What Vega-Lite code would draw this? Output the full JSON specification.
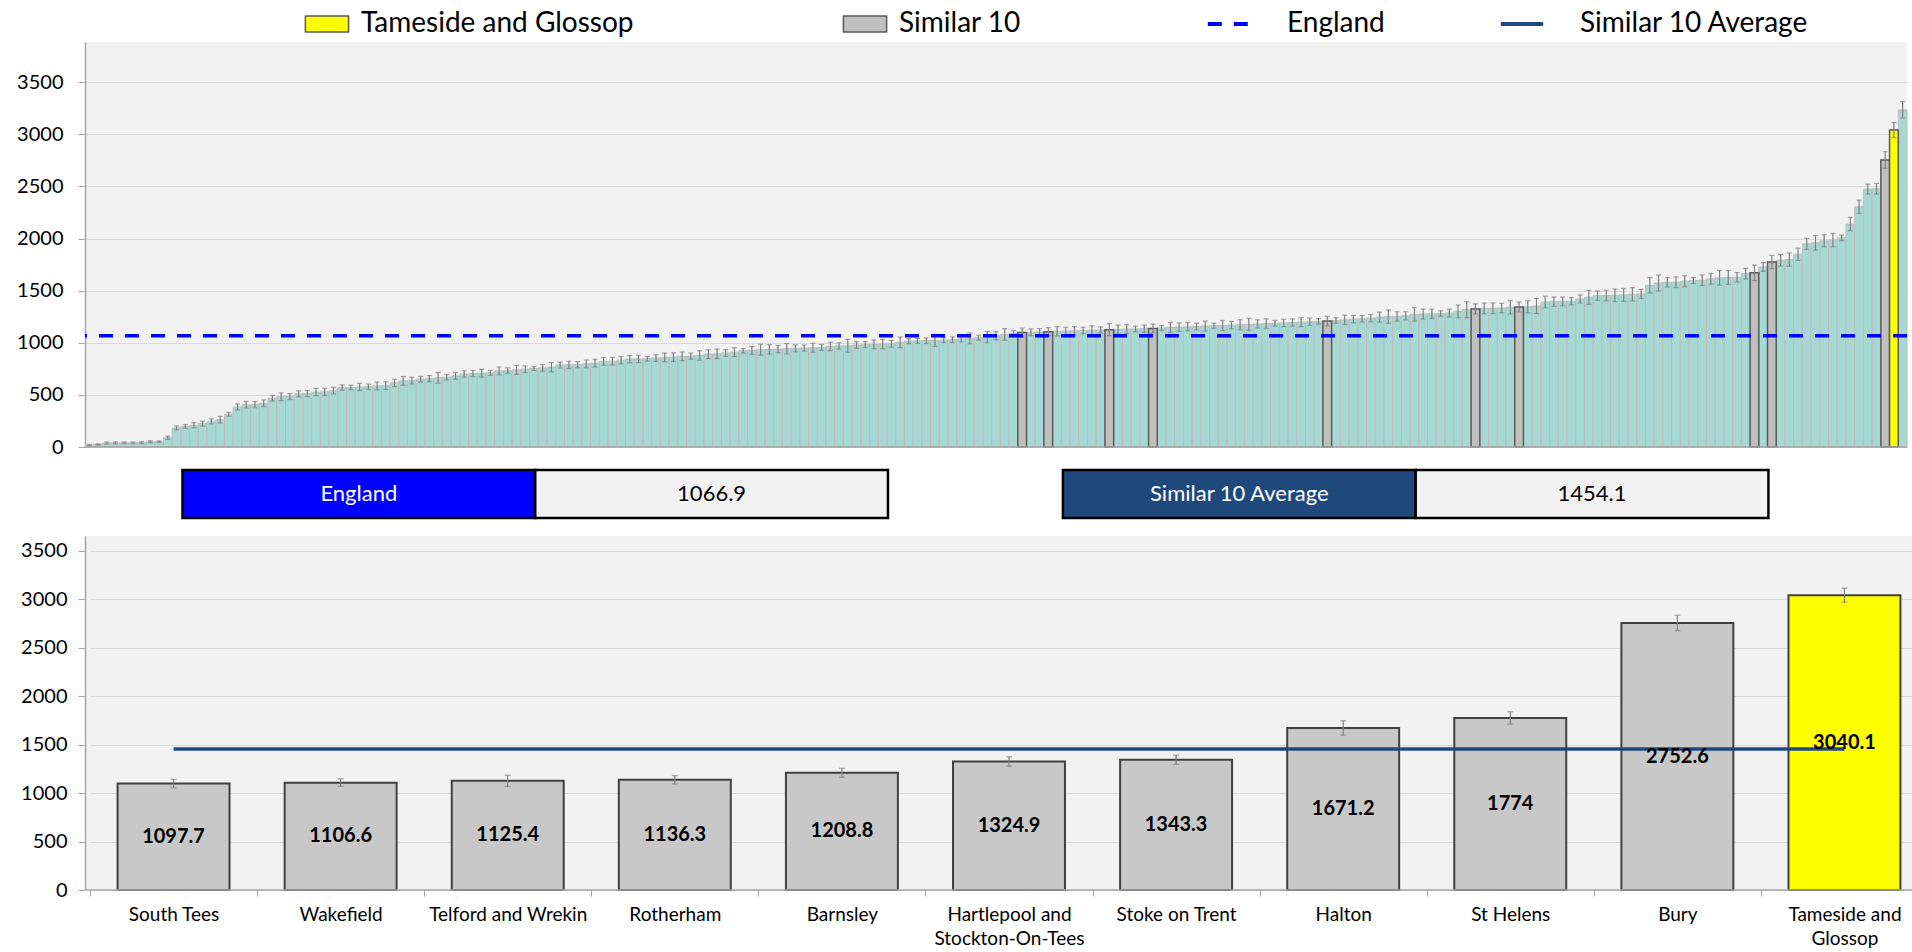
{
"$schema": "https://vega.github.io/schema/vega-lite/v6.json",
"padding": {"left": 0, "top": 10, "right": 0, "bottom": 0},
"background": "white",
"spacing": 11,
"config": {
  "font": "Lato",
  "view": {"stroke": null},
  "axis": {"labelFont": "Lato", "labelColor": "#000000", "domainColor": "#A6A6A6", "tickColor": "#A6A6A6", "gridColor": "#D9D9D9", "title": null},
  "legend": {"labelFont": "Lato", "labelColor": "#000000"},
  "text": {"font": "Lato"}
},
"resolve": {"scale": {"x": "independent", "y": "independent", "fill": "independent", "stroke": "independent", "color": "independent", "strokeDash": "independent"}},
"datasets": {
"boxes": [
 {"row": "summary", "cell": "England", "role": "label", "text": "England"},
 {"row": "summary", "cell": "England", "role": "value", "text": "1066.9"},
 {"row": "summary", "cell": "Similar 10 Average", "role": "label", "text": "Similar 10 Average"},
 {"row": "summary", "cell": "Similar 10 Average", "role": "value", "text": "1454.1"}
],
"ccg": [
{"r":0,"v":18,"lo":12,"hi":24,"g":"Other"},
{"r":1,"v":24,"lo":18,"hi":30,"g":"Other"},
{"r":2,"v":38,"lo":28,"hi":48,"g":"Other"},
{"r":3,"v":39,"lo":29,"hi":49,"g":"Other"},
{"r":4,"v":40,"lo":32,"hi":48,"g":"Other"},
{"r":5,"v":40,"lo":32,"hi":48,"g":"Other"},
{"r":6,"v":42,"lo":32,"hi":52,"g":"Other"},
{"r":7,"v":50,"lo":40,"hi":60,"g":"Other"},
{"r":8,"v":51,"lo":43,"hi":59,"g":"Other"},
{"r":9,"v":89,"lo":73,"hi":105,"g":"Other"},
{"r":10,"v":183,"lo":164,"hi":202,"g":"Other"},
{"r":11,"v":198,"lo":180,"hi":216,"g":"Other"},
{"r":12,"v":208,"lo":184,"hi":232,"g":"Other"},
{"r":13,"v":224,"lo":200,"hi":248,"g":"Other"},
{"r":14,"v":246,"lo":222,"hi":270,"g":"Other"},
{"r":15,"v":262,"lo":230,"hi":294,"g":"Other"},
{"r":16,"v":314,"lo":295,"hi":333,"g":"Other"},
{"r":17,"v":384,"lo":355,"hi":413,"g":"Other"},
{"r":18,"v":405,"lo":373,"hi":437,"g":"Other"},
{"r":19,"v":407,"lo":377,"hi":437,"g":"Other"},
{"r":20,"v":420,"lo":388,"hi":452,"g":"Other"},
{"r":21,"v":468,"lo":441,"hi":495,"g":"Other"},
{"r":22,"v":482,"lo":445,"hi":519,"g":"Other"},
{"r":23,"v":484,"lo":455,"hi":513,"g":"Other"},
{"r":24,"v":510,"lo":481,"hi":539,"g":"Other"},
{"r":25,"v":513,"lo":484,"hi":542,"g":"Other"},
{"r":26,"v":527,"lo":492,"hi":562,"g":"Other"},
{"r":27,"v":529,"lo":494,"hi":564,"g":"Other"},
{"r":28,"v":541,"lo":509,"hi":573,"g":"Other"},
{"r":29,"v":570,"lo":544,"hi":596,"g":"Other"},
{"r":30,"v":572,"lo":551,"hi":593,"g":"Other"},
{"r":31,"v":576,"lo":541,"hi":611,"g":"Other"},
{"r":32,"v":578,"lo":552,"hi":604,"g":"Other"},
{"r":33,"v":586,"lo":549,"hi":623,"g":"Other"},
{"r":34,"v":588,"lo":551,"hi":625,"g":"Other"},
{"r":35,"v":615,"lo":580,"hi":650,"g":"Other"},
{"r":36,"v":634,"lo":592,"hi":676,"g":"Other"},
{"r":37,"v":637,"lo":605,"hi":669,"g":"Other"},
{"r":38,"v":650,"lo":623,"hi":677,"g":"Other"},
{"r":39,"v":656,"lo":627,"hi":685,"g":"Other"},
{"r":40,"v":663,"lo":612,"hi":714,"g":"Other"},
{"r":41,"v":669,"lo":643,"hi":695,"g":"Other"},
{"r":42,"v":682,"lo":650,"hi":714,"g":"Other"},
{"r":43,"v":701,"lo":671,"hi":731,"g":"Other"},
{"r":44,"v":705,"lo":676,"hi":734,"g":"Other"},
{"r":45,"v":708,"lo":671,"hi":745,"g":"Other"},
{"r":46,"v":711,"lo":687,"hi":735,"g":"Other"},
{"r":47,"v":730,"lo":692,"hi":768,"g":"Other"},
{"r":48,"v":733,"lo":707,"hi":759,"g":"Other"},
{"r":49,"v":740,"lo":697,"hi":783,"g":"Other"},
{"r":50,"v":746,"lo":714,"hi":778,"g":"Other"},
{"r":51,"v":753,"lo":734,"hi":772,"g":"Other"},
{"r":52,"v":759,"lo":727,"hi":791,"g":"Other"},
{"r":53,"v":766,"lo":721,"hi":811,"g":"Other"},
{"r":54,"v":786,"lo":757,"hi":815,"g":"Other"},
{"r":55,"v":788,"lo":753,"hi":823,"g":"Other"},
{"r":56,"v":790,"lo":761,"hi":819,"g":"Other"},
{"r":57,"v":797,"lo":759,"hi":835,"g":"Other"},
{"r":58,"v":804,"lo":767,"hi":841,"g":"Other"},
{"r":59,"v":821,"lo":784,"hi":858,"g":"Other"},
{"r":60,"v":823,"lo":786,"hi":860,"g":"Other"},
{"r":61,"v":833,"lo":798,"hi":868,"g":"Other"},
{"r":62,"v":843,"lo":808,"hi":878,"g":"Other"},
{"r":63,"v":845,"lo":810,"hi":880,"g":"Other"},
{"r":64,"v":846,"lo":824,"hi":868,"g":"Other"},
{"r":65,"v":853,"lo":821,"hi":885,"g":"Other"},
{"r":66,"v":860,"lo":818,"hi":902,"g":"Other"},
{"r":67,"v":862,"lo":820,"hi":904,"g":"Other"},
{"r":68,"v":870,"lo":828,"hi":912,"g":"Other"},
{"r":69,"v":872,"lo":842,"hi":902,"g":"Other"},
{"r":70,"v":878,"lo":832,"hi":924,"g":"Other"},
{"r":71,"v":891,"lo":849,"hi":933,"g":"Other"},
{"r":72,"v":894,"lo":848,"hi":940,"g":"Other"},
{"r":73,"v":901,"lo":869,"hi":933,"g":"Other"},
{"r":74,"v":910,"lo":868,"hi":952,"g":"Other"},
{"r":75,"v":923,"lo":902,"hi":944,"g":"Other"},
{"r":76,"v":926,"lo":889,"hi":963,"g":"Other"},
{"r":77,"v":933,"lo":880,"hi":986,"g":"Other"},
{"r":78,"v":937,"lo":892,"hi":982,"g":"Other"},
{"r":79,"v":939,"lo":904,"hi":974,"g":"Other"},
{"r":80,"v":942,"lo":892,"hi":992,"g":"Other"},
{"r":81,"v":946,"lo":912,"hi":980,"g":"Other"},
{"r":82,"v":949,"lo":920,"hi":978,"g":"Other"},
{"r":83,"v":952,"lo":909,"hi":995,"g":"Other"},
{"r":84,"v":955,"lo":926,"hi":984,"g":"Other"},
{"r":85,"v":965,"lo":925,"hi":1005,"g":"Other"},
{"r":86,"v":969,"lo":939,"hi":999,"g":"Other"},
{"r":87,"v":971,"lo":909,"hi":1033,"g":"Other"},
{"r":88,"v":978,"lo":946,"hi":1010,"g":"Other"},
{"r":89,"v":982,"lo":953,"hi":1011,"g":"Other"},
{"r":90,"v":985,"lo":943,"hi":1027,"g":"Other"},
{"r":91,"v":987,"lo":942,"hi":1032,"g":"Other"},
{"r":92,"v":990,"lo":958,"hi":1022,"g":"Other"},
{"r":93,"v":1003,"lo":952,"hi":1054,"g":"Other"},
{"r":94,"v":1016,"lo":992,"hi":1040,"g":"Other"},
{"r":95,"v":1018,"lo":994,"hi":1042,"g":"Other"},
{"r":96,"v":1020,"lo":993,"hi":1047,"g":"Other"},
{"r":97,"v":1022,"lo":964,"hi":1080,"g":"Other"},
{"r":98,"v":1025,"lo":1001,"hi":1049,"g":"Other"},
{"r":99,"v":1029,"lo":1002,"hi":1056,"g":"Other"},
{"r":100,"v":1035,"lo":1008,"hi":1062,"g":"Other"},
{"r":101,"v":1041,"lo":990,"hi":1092,"g":"Other"},
{"r":102,"v":1048,"lo":1024,"hi":1072,"g":"Other"},
{"r":103,"v":1054,"lo":1000,"hi":1108,"g":"Other"},
{"r":104,"v":1067,"lo":1027,"hi":1107,"g":"Other"},
{"r":105,"v":1080,"lo":1024,"hi":1136,"g":"Other"},
{"r":106,"v":1090,"lo":1063,"hi":1117,"g":"Other"},
{"r":107,"v":1097.7,"lo":1055,"hi":1141,"g":"Similar 10","name":"South Tees"},
{"r":108,"v":1100,"lo":1068,"hi":1132,"g":"Other"},
{"r":109,"v":1104,"lo":1072,"hi":1136,"g":"Other"},
{"r":110,"v":1106.6,"lo":1069,"hi":1145,"g":"Similar 10","name":"Wakefield"},
{"r":111,"v":1110,"lo":1064,"hi":1156,"g":"Other"},
{"r":112,"v":1112,"lo":1075,"hi":1149,"g":"Other"},
{"r":113,"v":1115,"lo":1075,"hi":1155,"g":"Other"},
{"r":114,"v":1117,"lo":1085,"hi":1149,"g":"Other"},
{"r":115,"v":1120,"lo":1077,"hi":1163,"g":"Other"},
{"r":116,"v":1123,"lo":1094,"hi":1152,"g":"Other"},
{"r":117,"v":1125.4,"lo":1068,"hi":1183,"g":"Similar 10","name":"Telford and Wrekin"},
{"r":118,"v":1128,"lo":1085,"hi":1171,"g":"Other"},
{"r":119,"v":1131,"lo":1088,"hi":1174,"g":"Other"},
{"r":120,"v":1133,"lo":1106,"hi":1160,"g":"Other"},
{"r":121,"v":1135,"lo":1100,"hi":1170,"g":"Other"},
{"r":122,"v":1136.3,"lo":1093,"hi":1179,"g":"Similar 10","name":"Rotherham"},
{"r":123,"v":1142,"lo":1118,"hi":1166,"g":"Other"},
{"r":124,"v":1146,"lo":1098,"hi":1194,"g":"Other"},
{"r":125,"v":1150,"lo":1110,"hi":1190,"g":"Other"},
{"r":126,"v":1153,"lo":1113,"hi":1193,"g":"Other"},
{"r":127,"v":1156,"lo":1124,"hi":1188,"g":"Other"},
{"r":128,"v":1160,"lo":1112,"hi":1208,"g":"Other"},
{"r":129,"v":1163,"lo":1139,"hi":1187,"g":"Other"},
{"r":130,"v":1166,"lo":1118,"hi":1214,"g":"Other"},
{"r":131,"v":1170,"lo":1135,"hi":1205,"g":"Other"},
{"r":132,"v":1173,"lo":1125,"hi":1221,"g":"Other"},
{"r":133,"v":1176,"lo":1118,"hi":1234,"g":"Other"},
{"r":134,"v":1180,"lo":1140,"hi":1220,"g":"Other"},
{"r":135,"v":1184,"lo":1139,"hi":1229,"g":"Other"},
{"r":136,"v":1187,"lo":1160,"hi":1214,"g":"Other"},
{"r":137,"v":1190,"lo":1155,"hi":1225,"g":"Other"},
{"r":138,"v":1194,"lo":1159,"hi":1229,"g":"Other"},
{"r":139,"v":1198,"lo":1155,"hi":1241,"g":"Other"},
{"r":140,"v":1202,"lo":1167,"hi":1237,"g":"Other"},
{"r":141,"v":1205,"lo":1178,"hi":1232,"g":"Other"},
{"r":142,"v":1208.8,"lo":1163,"hi":1255,"g":"Similar 10","name":"Barnsley"},
{"r":143,"v":1214,"lo":1187,"hi":1241,"g":"Other"},
{"r":144,"v":1220,"lo":1175,"hi":1265,"g":"Other"},
{"r":145,"v":1226,"lo":1191,"hi":1261,"g":"Other"},
{"r":146,"v":1230,"lo":1198,"hi":1262,"g":"Other"},
{"r":147,"v":1237,"lo":1202,"hi":1272,"g":"Other"},
{"r":148,"v":1246,"lo":1198,"hi":1294,"g":"Other"},
{"r":149,"v":1250,"lo":1186,"hi":1314,"g":"Other"},
{"r":150,"v":1253,"lo":1208,"hi":1298,"g":"Other"},
{"r":151,"v":1258,"lo":1218,"hi":1298,"g":"Other"},
{"r":152,"v":1272,"lo":1208,"hi":1336,"g":"Other"},
{"r":153,"v":1275,"lo":1227,"hi":1323,"g":"Other"},
{"r":154,"v":1278,"lo":1233,"hi":1323,"g":"Other"},
{"r":155,"v":1280,"lo":1254,"hi":1306,"g":"Other"},
{"r":156,"v":1285,"lo":1247,"hi":1323,"g":"Other"},
{"r":157,"v":1301,"lo":1240,"hi":1362,"g":"Other"},
{"r":158,"v":1317,"lo":1240,"hi":1394,"g":"Other"},
{"r":159,"v":1324.9,"lo":1277,"hi":1373,"g":"Similar 10","name":"Hartlepool and Stockton-On-Tees"},
{"r":160,"v":1330,"lo":1279,"hi":1381,"g":"Other"},
{"r":161,"v":1331,"lo":1280,"hi":1382,"g":"Other"},
{"r":162,"v":1333,"lo":1288,"hi":1378,"g":"Other"},
{"r":163,"v":1340,"lo":1276,"hi":1404,"g":"Other"},
{"r":164,"v":1343.3,"lo":1295,"hi":1391,"g":"Similar 10","name":"Stoke on Trent"},
{"r":165,"v":1345,"lo":1287,"hi":1403,"g":"Other"},
{"r":166,"v":1352,"lo":1280,"hi":1424,"g":"Other"},
{"r":167,"v":1391,"lo":1335,"hi":1447,"g":"Other"},
{"r":168,"v":1394,"lo":1349,"hi":1439,"g":"Other"},
{"r":169,"v":1397,"lo":1355,"hi":1439,"g":"Other"},
{"r":170,"v":1398,"lo":1363,"hi":1433,"g":"Other"},
{"r":171,"v":1420,"lo":1382,"hi":1458,"g":"Other"},
{"r":172,"v":1436,"lo":1369,"hi":1503,"g":"Other"},
{"r":173,"v":1452,"lo":1407,"hi":1497,"g":"Other"},
{"r":174,"v":1453,"lo":1402,"hi":1504,"g":"Other"},
{"r":175,"v":1455,"lo":1394,"hi":1516,"g":"Other"},
{"r":176,"v":1459,"lo":1397,"hi":1521,"g":"Other"},
{"r":177,"v":1465,"lo":1401,"hi":1529,"g":"Other"},
{"r":178,"v":1468,"lo":1425,"hi":1511,"g":"Other"},
{"r":179,"v":1551,"lo":1477,"hi":1625,"g":"Other"},
{"r":180,"v":1573,"lo":1496,"hi":1650,"g":"Other"},
{"r":181,"v":1580,"lo":1535,"hi":1625,"g":"Other"},
{"r":182,"v":1581,"lo":1530,"hi":1632,"g":"Other"},
{"r":183,"v":1590,"lo":1537,"hi":1643,"g":"Other"},
{"r":184,"v":1597,"lo":1568,"hi":1626,"g":"Other"},
{"r":185,"v":1600,"lo":1549,"hi":1651,"g":"Other"},
{"r":186,"v":1613,"lo":1562,"hi":1664,"g":"Other"},
{"r":187,"v":1623,"lo":1553,"hi":1693,"g":"Other"},
{"r":188,"v":1626,"lo":1559,"hi":1693,"g":"Other"},
{"r":189,"v":1628,"lo":1583,"hi":1673,"g":"Other"},
{"r":190,"v":1663,"lo":1612,"hi":1714,"g":"Other"},
{"r":191,"v":1671.2,"lo":1597,"hi":1745,"g":"Similar 10","name":"Halton"},
{"r":192,"v":1727,"lo":1685,"hi":1769,"g":"Other"},
{"r":193,"v":1774,"lo":1710,"hi":1838,"g":"Similar 10","name":"St Helens"},
{"r":194,"v":1791,"lo":1735,"hi":1847,"g":"Other"},
{"r":195,"v":1798,"lo":1734,"hi":1862,"g":"Other"},
{"r":196,"v":1849,"lo":1790,"hi":1908,"g":"Other"},
{"r":197,"v":1949,"lo":1896,"hi":2002,"g":"Other"},
{"r":198,"v":1958,"lo":1889,"hi":2027,"g":"Other"},
{"r":199,"v":1977,"lo":1919,"hi":2035,"g":"Other"},
{"r":200,"v":1984,"lo":1920,"hi":2048,"g":"Other"},
{"r":201,"v":2006,"lo":1979,"hi":2033,"g":"Other"},
{"r":202,"v":2138,"lo":2074,"hi":2202,"g":"Other"},
{"r":203,"v":2304,"lo":2240,"hi":2368,"g":"Other"},
{"r":204,"v":2474,"lo":2426,"hi":2522,"g":"Other"},
{"r":205,"v":2477,"lo":2426,"hi":2528,"g":"Other"},
{"r":206,"v":2752.6,"lo":2673,"hi":2833,"g":"Similar 10","name":"Bury"},
{"r":207,"v":3040.1,"lo":2968,"hi":3112,"g":"Tameside and Glossop","name":"Tameside and Glossop"},
{"r":208,"v":3234,"lo":3156,"hi":3312,"g":"Other"}
]
},
"vconcat": [
{
  "width": 1822,
  "height": 405,
  "view": {"fill": "#F2F2F2", "stroke": null},
  "data": {"name": "ccg"},
  "layer": [
    {
      "transform": [{"filter": "datum.g === 'Other'"}],
      "mark": {"type": "bar", "strokeWidth": 1, "stroke": "#BDBDBD"},
      "encoding": {
        "x": {"field": "r", "type": "ordinal", "scale": {"paddingInner": 0, "paddingOuter": 0}, "axis": null},
        "y": {"field": "v", "type": "quantitative", "scale": {"domain": [0, 3885], "nice": false, "zero": true}, "axis": {"values": [0, 500, 1000, 1500, 2000, 2500, 3000, 3500], "format": "d", "grid": true, "gridColor": "#D9D9D9", "gridWidth": 1, "tickSize": 7, "tickColor": "#A6A6A6", "labelPadding": 15, "labelFontSize": 20, "domainColor": "#A6A6A6", "domainWidth": 1.5, "minExtent": 85, "maxExtent": 85, "title": null}},
        "fill": {"field": "g", "type": "nominal", "scale": {"domain": ["Tameside and Glossop", "Similar 10", "Other"], "range": ["#FFFF00", "#BFBFBF", "#A6D8D4"]},
          "legend": {"orient": "none", "legendX": 228, "legendY": -32, "direction": "horizontal", "values": ["Tameside and Glossop", "Similar 10"], "title": null, "symbolType": "M-2.7,-1H2.7V1H-2.7Z", "symbolSize": 256, "symbolStrokeColor": "#595959", "symbolStrokeWidth": 1.5, "labelOffset": 20, "columnPadding": 206, "labelFontSize": 28, "labelLimit": 0, "padding": 0}}
      }
    },
    {
      "transform": [{"filter": "datum.g !== 'Other'"}],
      "mark": {"type": "bar", "strokeWidth": 1.5, "stroke": "#595959"},
      "encoding": {
        "x": {"field": "r", "type": "ordinal"},
        "y": {"field": "v", "type": "quantitative"},
        "fill": {"field": "g", "type": "nominal", "legend": null}
      }
    },
    {
      "mark": {"type": "rule", "stroke": "#7F7F7F", "strokeWidth": 1.2},
      "encoding": {
        "x": {"field": "r", "type": "ordinal"},
        "y": {"field": "lo", "type": "quantitative"},
        "y2": {"field": "hi"}
      }
    },
    {
      "mark": {"type": "tick", "color": "#7F7F7F", "size": 5, "thickness": 1.2},
      "encoding": {
        "x": {"field": "r", "type": "ordinal"},
        "y": {"field": "lo", "type": "quantitative"}
      }
    },
    {
      "mark": {"type": "tick", "color": "#7F7F7F", "size": 5, "thickness": 1.2},
      "encoding": {
        "x": {"field": "r", "type": "ordinal"},
        "y": {"field": "hi", "type": "quantitative"}
      }
    },
    {
      "data": {"values": [{"base": 0}]},
      "mark": {"type": "rule", "stroke": "#A6A6A6", "strokeWidth": 1.5},
      "encoding": {"y": {"field": "base", "type": "quantitative"}}
    },
    {
      "data": {"values": [{"ref": "England", "val": 1066.9}]},
      "mark": {"type": "rule", "strokeWidth": 3.5},
      "encoding": {
        "y": {"field": "val", "type": "quantitative"},
        "stroke": {"field": "ref", "type": "nominal", "scale": {"domain": ["England", "Similar 10 Average"], "range": ["#0000FF", "#1F497D"]},
          "legend": {"orient": "none", "legendX": 1130, "legendY": -32, "direction": "horizontal", "title": null, "symbolType": "M-2.65,0H2.65", "symbolSize": 256, "symbolStrokeWidth": 4, "labelOffset": 44, "columnPadding": 107, "labelFontSize": 28, "labelLimit": 0, "padding": 0}},
        "strokeDash": {"field": "ref", "type": "nominal", "scale": {"domain": ["England", "Similar 10 Average"], "range": [[14, 12], [1, 0]]},
          "legend": {"orient": "none", "legendX": 1130, "legendY": -32, "direction": "horizontal", "title": null, "symbolType": "M-2.65,0H2.65", "symbolSize": 256, "symbolStrokeWidth": 4, "labelOffset": 44, "columnPadding": 107, "labelFontSize": 28, "labelLimit": 0, "padding": 0}}
      }
    }
  ]
},
{
  "width": 1827,
  "height": 55,
  "view": {"stroke": null},
  "data": {"name": "boxes"},
  "encoding": {
    "x": {"field": "cell", "type": "nominal", "sort": null, "scale": {"domain": ["England", "Similar 10 Average"], "paddingInner": 0.1987, "paddingOuter": 0.1369, "align": 0.4044}, "axis": null},
    "xOffset": {"field": "role", "type": "nominal", "scale": {"domain": ["label", "value"], "paddingInner": 0, "paddingOuter": 0}},
    "y": {"field": "row", "type": "nominal", "scale": {"paddingInner": 0, "paddingOuter": 0.0729, "align": 0}, "axis": null}
  },
  "layer": [
    {
      "mark": {"type": "bar", "stroke": "#000000", "strokeWidth": 2.5},
      "encoding": {
        "fill": {"condition": {"test": "datum.role === 'value'", "value": "#F2F2F2"}, "field": "cell", "type": "nominal", "scale": {"domain": ["England", "Similar 10 Average"], "range": ["#0000FF", "#1F497D"]}, "legend": null}
      }
    },
    {
      "mark": {"type": "text", "fontSize": 22, "font": "Lato"},
      "encoding": {
        "text": {"field": "text", "type": "nominal"},
        "color": {"condition": {"test": "datum.role === 'label'", "value": "#FFFFFF"}, "value": "#000000"}
      }
    }
  ]
},
{
  "width": 1827,
  "height": 354,
  "view": {"fill": "#F2F2F2", "stroke": null},
  "data": {"name": "ccg"},
  "transform": [{"filter": "datum.g !== 'Other'"}],
  "encoding": {
    "x": {"field": "name", "type": "nominal", "sort": {"field": "v", "op": "max"},
      "scale": {"range": [5, 1843], "paddingInner": 0.33, "paddingOuter": 0.165},
      "axis": {"domain": false, "ticks": true, "tickSize": 6, "tickColor": "#A6A6A6", "tickOffset": -83.55, "labelOffset": 83.55, "labelAngle": 0, "labelFontSize": 19, "labelPadding": 9, "labelLineHeight": 24, "labelLimit": 0, "labelOverlap": false, "labelBound": false, "title": null,
        "labelExpr": "indexof(datum.value, ' and ') > 0 && length(datum.value) > 19 ? [slice(datum.value, 0, indexof(datum.value, ' and ') + 4), slice(datum.value, indexof(datum.value, ' and ') + 5)] : datum.value"}}
  },
  "layer": [
    {
      "mark": {"type": "bar", "stroke": "#404040", "strokeWidth": 2},
      "encoding": {
        "y": {"field": "v", "type": "quantitative", "scale": {"domain": [0, 3650], "nice": false}, "axis": {"values": [0, 500, 1000, 1500, 2000, 2500, 3000, 3500], "format": "d", "grid": true, "gridColor": "#D9D9D9", "gridWidth": 1, "tickSize": 7, "labelPadding": 11, "labelFontSize": 20, "domainColor": "#A6A6A6", "domainWidth": 1.5, "minExtent": 85, "maxExtent": 85, "title": null}},
        "fill": {"field": "g", "type": "nominal", "scale": {"domain": ["Tameside and Glossop", "Similar 10"], "range": ["#FFFF00", "#C8C8C8"]}, "legend": null}
      }
    },
    {
      "data": {"values": [{"base": 0}]},
      "mark": {"type": "rule", "stroke": "#A6A6A6", "strokeWidth": 1.5},
      "encoding": {"x": null, "y": {"field": "base", "type": "quantitative", "scale": {"domain": [0, 3650], "nice": false}, "axis": null}}
    },
    {
      "mark": {"type": "line", "stroke": "#1F497D", "strokeWidth": 3.5},
      "encoding": {"y": {"datum": 1454.1, "type": "quantitative", "scale": {"domain": [0, 3650], "nice": false}, "axis": null}}
    },
    {
      "mark": {"type": "rule", "stroke": "#808080", "strokeWidth": 1.2},
      "encoding": {
        "y": {"field": "lo", "type": "quantitative", "scale": {"domain": [0, 3650], "nice": false}, "axis": null},
        "y2": {"field": "hi"}
      }
    },
    {
      "mark": {"type": "tick", "color": "#808080", "size": 6, "thickness": 1.2},
      "encoding": {"y": {"field": "lo", "type": "quantitative", "scale": {"domain": [0, 3650], "nice": false}, "axis": null}}
    },
    {
      "mark": {"type": "tick", "color": "#808080", "size": 6, "thickness": 1.2},
      "encoding": {"y": {"field": "hi", "type": "quantitative", "scale": {"domain": [0, 3650], "nice": false}, "axis": null}}
    },
    {
      "mark": {"type": "text", "fontSize": 20, "fontWeight": "bold", "font": "Lato", "color": "#000000"},
      "encoding": {
        "y": {"field": "v", "type": "quantitative", "scale": {"domain": [0, 7300], "nice": false}, "axis": null},
        "text": {"field": "v", "type": "nominal"}
      }
    }
  ],
  "resolve": {"scale": {"y": "independent"}}
}
]
}
